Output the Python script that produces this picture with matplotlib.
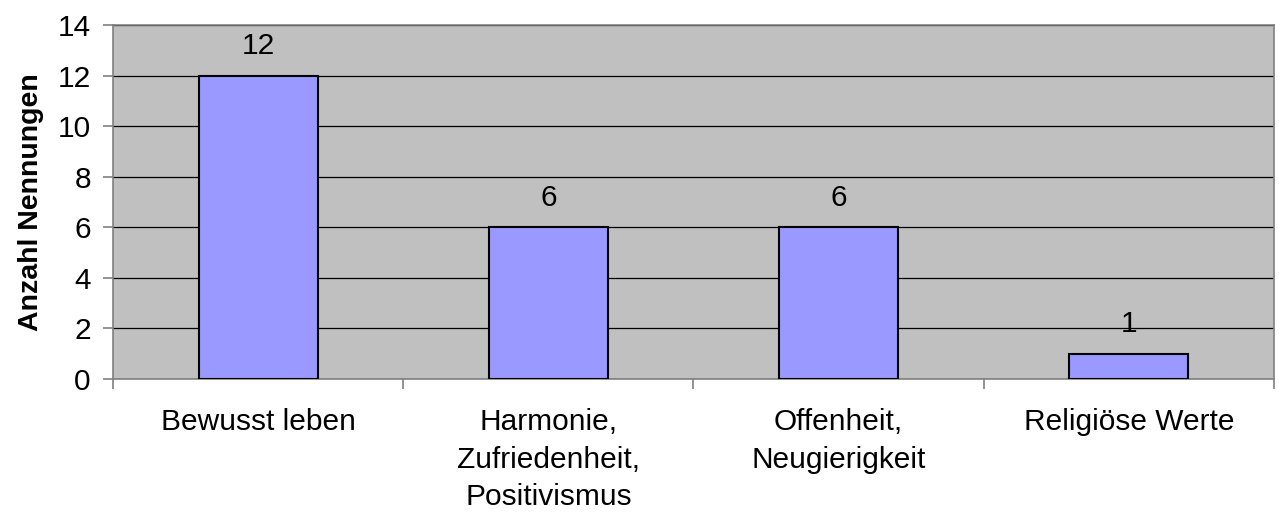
import matplotlib.pyplot as plt
import numpy as np

plt.rcParams['font.family'] = ['Liberation Sans', 'DejaVu Sans']

# Daten
kategorien = ['Bewusst leben', 'Harmonie,\nZufriedenheit,\nPositivismus',
              'Offenheit,\nNeugierigkeit', 'Religiöse Werte']
nennungen = [12, 6, 6, 1]
y_ticks = [0, 2, 4, 6, 8, 10, 12, 14]

fs = 21.5

fig = plt.figure(figsize=(12.79, 5.12), dpi=100)
ax = fig.add_axes([0.0884, 0.2598, 0.9076, 0.6914])
ax.set_facecolor('#C0C0C0')

x = np.arange(len(kategorien))
bars = ax.bar(x, nennungen, width=0.41, color='#9999FF', edgecolor='black',
              linewidth=1.5, zorder=3)

for xi, v in zip(x, nennungen):
    ax.annotate(str(v), (xi, v), xytext=(0, 11), textcoords='offset points',
                ha='center', va='bottom', fontsize=fs)

ax.set_xlim(-0.5, len(kategorien) - 0.5)
ax.set_ylim(0, 14)
ax.set_yticks(y_ticks)
ax.yaxis.grid(True, color='black', linewidth=0.9, zorder=0)
ax.set_axisbelow(True)

ax.set_xticks(x)
ax.set_xticklabels(kategorien, fontsize=fs, linespacing=1.43)
ax.set_xticks(np.arange(len(kategorien) + 1) - 0.5, minor=True)
ax.tick_params(axis='x', which='major', length=0, pad=21)
ax.tick_params(axis='x', which='minor', length=7, color='#808080', width=1.2)
ax.tick_params(axis='y', labelsize=fs, length=7, color='#808080', width=1.2, pad=9)

for s in ax.spines.values():
    s.set_color('#808080')
    s.set_linewidth(1.2)

ax.set_ylabel('Anzahl Nennungen', fontsize=20.5, fontweight='bold', labelpad=10)

fig.savefig('out.png', dpi=100)
